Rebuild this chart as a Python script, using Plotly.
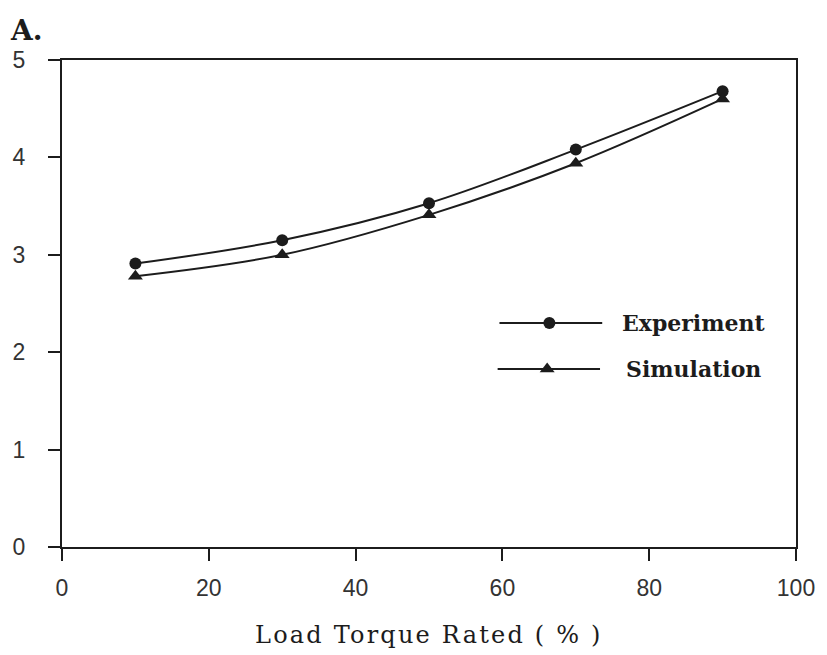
import plotly.graph_objects as go

# Load torque (% of rated) and measured / simulated values
load_pct = [10, 30, 50, 70, 90]
experiment = [2.91, 3.15, 3.53, 4.08, 4.68]
simulation = [2.78, 3.00, 3.41, 3.94, 4.60]

x_ticks = [0, 20, 40, 60, 80, 100]
y_ticks = [0, 1, 2, 3, 4, 5]

INK = "#1c1c1c"
SERIF = "DejaVu Serif"
SANS = "Liberation Sans"

fig = go.Figure()

fig.add_trace(go.Scatter(
    x=load_pct, y=experiment, mode="lines+markers", name="Experiment",
    line=dict(color=INK, width=2, shape="spline", smoothing=1),
    marker=dict(symbol="circle", size=12, color=INK),
    showlegend=False,
))
fig.add_trace(go.Scatter(
    x=load_pct, y=simulation, mode="lines+markers", name="Simulation",
    line=dict(color=INK, width=2, shape="spline", smoothing=1),
    marker=dict(symbol="triangle-up", size=13, color=INK),
    showlegend=False,
))

# Legend keys drawn on a hidden overlay axis spanning the plot area (0..1)
legend_rows = [
    ("Experiment", "circle", 12, 0.596, 0.736, 0.664, 0.460, 0.760),
    ("Simulation", "triangle-up", 13, 0.5935, 0.733, 0.661, 0.3655, 0.766),
]
for name, sym, size, x0, x1, xm, yy, xt in legend_rows:
    fig.add_trace(go.Scatter(
        x=[x0, x1], y=[yy, yy], mode="lines", xaxis="x2", yaxis="y2",
        line=dict(color=INK, width=2), showlegend=False, hoverinfo="skip",
    ))
    fig.add_trace(go.Scatter(
        x=[xm], y=[yy], mode="markers", xaxis="x2", yaxis="y2",
        marker=dict(symbol=sym, size=size, color=INK),
        showlegend=False, hoverinfo="skip",
    ))
    fig.add_annotation(
        x=xt, y=yy, xref="paper", yref="paper", text=name, showarrow=False,
        xanchor="left", yanchor="middle",
        font=dict(family=SERIF, size=22, color=INK, weight="bold"),
    )

axis_common = dict(
    showgrid=False, zeroline=False, showline=True, linecolor=INK, linewidth=2,
    mirror=True, ticks="outside", ticklen=12, tickwidth=2, tickcolor=INK,
    tickfont=dict(family=SANS, size=23, color="#333333"),
)

fig.update_layout(
    width=827, height=655,
    margin=dict(l=62, r=25, t=60, b=108),
    paper_bgcolor="white", plot_bgcolor="white",
    xaxis=dict(range=[0, 100], tickvals=x_ticks, ticklabelstandoff=7, **axis_common),
    yaxis=dict(range=[0, 5], tickvals=y_ticks, ticklabelstandoff=18, **axis_common),
    xaxis2=dict(range=[0, 1], overlaying="x", visible=False, fixedrange=True),
    yaxis2=dict(range=[0, 1], overlaying="y", visible=False, fixedrange=True),
)

# Panel label and axis title
fig.add_annotation(
    x=-0.073, y=1.0616, xref="paper", yref="paper", text="A.", showarrow=False,
    xanchor="left", yanchor="middle",
    font=dict(family=SERIF, size=28, color=INK, weight="bold"),
)
fig.add_annotation(
    x=0.5, y=-0.1807, xref="paper", yref="paper",
    text='<span style="letter-spacing:2.2px">Load Torque Rated ( % )</span>',
    showarrow=False, xanchor="center", yanchor="middle",
    font=dict(family=SERIF, size=24, color=INK),
)

fig.write_html("out.html")
